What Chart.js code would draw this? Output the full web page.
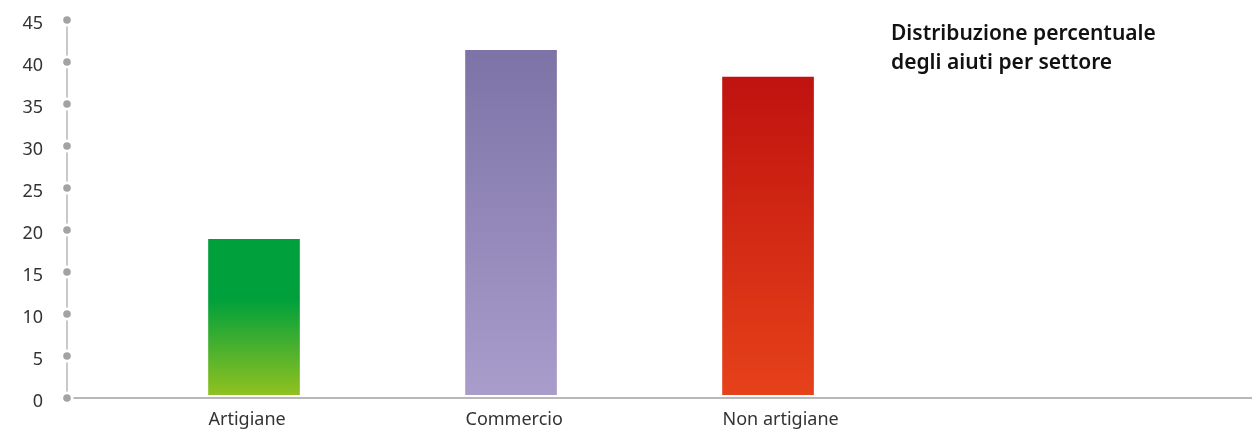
<!DOCTYPE html>
<html lang="it">
<head>
<meta charset="utf-8">
<title>Distribuzione percentuale degli aiuti per settore</title>
<script src="https://cdn.jsdelivr.net/npm/chart.js@4/dist/chart.umd.min.js"></script>
<style>
  html, body { margin: 0; padding: 0; background: #ffffff; }
  #wrap { position: relative; width: 1252px; height: 430px; }
  #chart { position: absolute; left: 0; top: 0; }
  #title {
    position: absolute; left: 891px; top: 18px;
    font-family: "Noto Sans", sans-serif; font-weight: 600;
    font-size: 21px; line-height: 29px; color: #111111;
  }
</style>
</head>
<body>
<div id="wrap">
  <canvas id="chart" width="1252" height="430"></canvas>
  <div id="title">Distribuzione percentuale<br>degli aiuti per settore</div>
</div>
<script>
// Sectors and their share of the aid (%)
const categories = ['Artigiane', 'Commercio', 'Non artigiane'];
const shares = [18.9, 41.4, 38.2];
const yTicks = [0, 5, 10, 15, 20, 25, 30, 35, 40, 45];

const BAR_WIDTH = 91;

// Vertical gradient per bar: [colour at top, colour at bottom, share of the bar kept solid from the top]
const barFills = [
  ['#00a03c', '#95c21f', 0.38],
  ['#7d73a6', '#a99dcc', 0],
  ['#c0120f', '#e6421a', 0]
];

function barGradient(ctx) {
  const chart = ctx.chart;
  const area = chart.chartArea;
  if (!area || ctx.type !== 'data') return barFills[0][0];
  const y = chart.scales.y;
  const i = ctx.dataIndex;
  const top = y.getPixelForValue(shares[i]);
  const bottom = y.getPixelForValue(0);
  const [c1, c2, solid] = barFills[i];
  const g = chart.ctx.createLinearGradient(0, top, 0, bottom);
  g.addColorStop(0, c1);
  if (solid > 0) g.addColorStop(solid, c1);
  g.addColorStop(1, c2);
  return g;
}

// Axis lines with dotted tick markers
const dottedAxes = {
  id: 'dottedAxes',
  afterDatasetsDraw(chart) {
    const { ctx, chartArea, scales } = chart;
    const x0 = chartArea.left;
    const yBottom = scales.y.getPixelForValue(0);
    const yTop = scales.y.getPixelForValue(yTicks[yTicks.length - 1]);
    ctx.save();
    // thin white strip keeps the bars just clear of the baseline
    ctx.fillStyle = '#ffffff';
    ctx.fillRect(x0 + 7, yBottom - 3, chartArea.right - x0 - 7, 3);
    ctx.strokeStyle = '#c9c9c9';
    ctx.lineWidth = 2;
    ctx.beginPath();
    ctx.moveTo(x0, yTop);
    ctx.lineTo(x0, yBottom);
    ctx.stroke();
    ctx.strokeStyle = '#b8b8b8';
    ctx.beginPath();
    ctx.moveTo(x0, yBottom);
    ctx.lineTo(chartArea.right, yBottom);
    ctx.stroke();
    yTicks.forEach(v => {
      const py = scales.y.getPixelForValue(v);
      ctx.fillStyle = '#ffffff';
      ctx.beginPath();
      ctx.arc(x0, py, 6.5, 0, Math.PI * 2);
      ctx.fill();
      ctx.fillStyle = '#a3a3a3';
      ctx.beginPath();
      ctx.arc(x0, py, 3.8, 0, Math.PI * 2);
      ctx.fill();
    });
    ctx.restore();
  }
};

new Chart(document.getElementById('chart'), {
  type: 'bar',
  data: {
    datasets: [{
      data: categories.map((c, i) => ({ x: i, y: shares[i] })),
      backgroundColor: barGradient,
      borderWidth: 0,
      barThickness: BAR_WIDTH
    }]
  },
  options: {
    responsive: false,
    animation: false,
    events: [],
    layout: { padding: { top: 20, right: 0, bottom: 0, left: 0 } },
    plugins: {
      legend: { display: false },
      tooltip: { enabled: false }
    },
    scales: {
      x: {
        type: 'linear',
        offset: false,
        min: -0.7276,
        max: 3.883,
        grid: { display: false, drawTicks: false },
        border: { display: false },
        afterFit(scale) {
          scale.height = 32;
          scale.paddingLeft = 0;
          scale.paddingRight = 0;
        },
        afterBuildTicks(scale) {
          scale.ticks = categories.map((c, i) => ({ value: i }));
        },
        ticks: {
          autoSkip: false,
          maxRotation: 0,
          align: 'start',
          labelOffset: -BAR_WIDTH / 2,
          padding: 11,
          color: '#333333',
          font: { family: '"Noto Sans", sans-serif', size: 18 },
          callback: v => categories[v] ?? ''
        }
      },
      y: {
        min: 0,
        max: 45,
        grid: { display: false, drawTicks: false },
        border: { display: false },
        afterFit(scale) {
          scale.width = 67;
          scale.paddingTop = 0;
          scale.paddingBottom = 0;
        },
        afterBuildTicks(scale) {
          scale.ticks = yTicks.map(v => ({ value: v }));
        },
        ticks: {
          padding: 24,
          labelOffset: 4,
          color: '#333333',
          font: { family: '"Noto Sans", sans-serif', size: 18 }
        }
      }
    }
  },
  plugins: [dottedAxes]
});
</script>
</body>
</html>
